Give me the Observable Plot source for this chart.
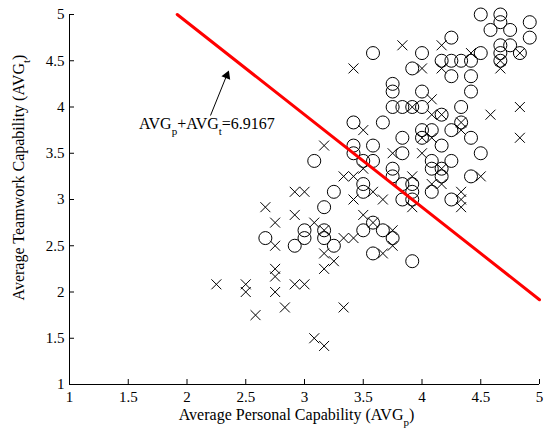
<!DOCTYPE html>
<html><head><meta charset="utf-8">
<script src="https://cdn.jsdelivr.net/npm/d3@7"></script>
<script src="https://cdn.jsdelivr.net/npm/@observablehq/plot@0.6"></script>
<style>body{margin:0;background:#fff}</style>
</head><body><div id="chart"></div>
<script>
// Circles (o)
const circleX = [4.5,4.667,4.667,4.917,4.583,4.75,4.917,4.667,4.75,4.833,4.667,4.667,4.25,4.0,3.583,3.917,4.167,4.25,4.333,4.417,4.5,4.25,4.417,4.417,3.75,3.75,4.0,3.75,3.833,3.917,4.0,4.333,
  4.167,4.333,3.667,3.417,4.0,4.083,4.25,3.833,4.0,4.417,4.167,4.5,3.833,4.083,4.25,4.167,4.083,3.75,3.75,3.833,3.917,4.167,4.417,4.083,3.917,3.833,3.917,4.25,
  3.417,3.417,3.583,3.583,3.5,3.083,3.5,3.25,3.5,3.167,3.167,3.167,3.25,3.5,3.583,3.667,3.75,3.583,3.917,2.667,2.917,3.0,3.0];
const circleY = [5,5,4.917,4.917,4.833,4.833,4.75,4.667,4.667,4.583,4.583,4.5,4.75,4.583,4.583,4.417,4.5,4.5,4.5,4.5,4.583,4.333,4.333,4.167,4.25,4.167,4.167,4.0,4.0,4.0,4.0,4.0,
  3.917,3.833,3.833,3.833,3.75,3.75,3.75,3.667,3.667,3.667,3.583,3.5,3.5,3.417,3.417,3.333,3.333,3.333,3.25,3.167,3.167,3.25,3.25,3.083,3.083,3.0,3.0,3.0,
  3.583,3.5,3.583,3.417,3.417,3.417,3.167,3.083,3.083,2.917,2.667,2.583,2.5,2.667,2.75,2.667,2.583,2.417,2.333,2.583,2.5,2.583,2.667];
// Crosses (x)
const crossX = [3.833,4.167,4.417,4.0,4.167,4.667,4.667,4.833,4.833,4.083,3.417,3.917,4.583,4.833,3.5,4.083,4.167,4.333,4.333,4.0,4.083,3.75,4.0,4.167,3.917,4.167,4.5,4.083,3.667,4.333,4.333,3.917,4.333,
  3.167,3.5,3.333,3.417,3.417,3.583,2.917,3.0,2.667,2.917,2.75,3.083,2.75,2.75,2.75,2.25,2.5,2.5,2.75,2.917,3.0,2.833,2.583,3.083,3.167,3.333,3.167,3.25,3.167,3.167,3.333,3.417,3.5,3.583,3.667,3.75,3.75];
const crossY = [4.667,4.667,4.583,4.417,4.417,4.417,4.5,4.583,4.0,4.083,4.417,4.0,3.917,3.667,3.75,3.917,3.917,3.833,3.75,3.667,3.667,3.5,3.5,3.333,3.25,3.167,3.25,3.167,3.0,3.083,3.0,2.917,2.917,
  3.583,3.333,3.25,3.25,3.0,3.083,3.083,3.083,2.917,2.833,2.75,2.75,2.5,2.25,2.167,2.083,2.083,2.0,2.0,2.083,2.083,1.833,1.75,1.5,1.417,1.833,2.25,2.333,2.417,2.667,2.583,2.583,2.833,2.75,2.417,2.667,2.5];
// Ticks
const xTicks = [1,1.5,2,2.5,3,3.5,4,4.5,5];
const yTicks = [1,1.5,2,2.5,3,3.5,4,4.5,5];
// Decision line AVG_p + AVG_t = 6.9167
const sumConst = 6.9167;
const lineX = [sumConst - 5, 5];
const lineY = [5, sumConst - 5];
// Annotation
const annotText = ["AVG_p+AVG_t=6.9167"];
const annotX = [2.17];
const annotY = [3.82];
const arrowX1 = [2.2], arrowY1 = [3.908], arrowX2 = [2.35], arrowY2 = [4.38];
const headX = [2.339], headY = [4.341];
const xLabel = ["Average Personal Capability (AVG_p)"];
const yLabel = ["Average Teamwork Capability (AVG_t)"];

const FONT = "Liberation Serif, Times New Roman, serif";
const svg = Plot.plot({
  width: 544, height: 432,
  marginLeft: 69, marginRight: 5, marginTop: 14, marginBottom: 48,
  style: {fontFamily: FONT, fontSize: "15px", background: "white", color: "black"},
  x: {domain: [1, 5], label: null},
  y: {domain: [1, 5], label: null},
  marks: [
    Plot.ruleY([1], {stroke: "black", strokeWidth: 1}),
    Plot.ruleX([1], {stroke: "black", strokeWidth: 1}),
    Plot.ruleX(xTicks, {y1: 1, y2: 1 + 5/92.5, stroke: "black"}),
    Plot.ruleY(yTicks, {x1: 1, x2: 1 + 5/117.5, stroke: "black"}),
    Plot.axisX({ticks: xTicks, tickSize: 0, tickPadding: 7, tickFormat: d => String(d), fontSize: 15}),
    Plot.axisY({ticks: yTicks, tickSize: 0, tickPadding: 5, tickFormat: d => String(d), fontSize: 15}),
    Plot.dot(circleX, {x: circleX, y: circleY, r: 6.5, stroke: "black", strokeWidth: 1, fill: "none"}),
    Plot.dot(crossX, {x: crossX, y: crossY, symbol: "times", r: 4.6, stroke: "black", strokeWidth: 1}),
    Plot.line(lineX, {x: lineX, y: lineY, stroke: "#ff0000", strokeWidth: 3}),
    Plot.link(arrowX1, {x1: arrowX1, y1: arrowY1, x2: arrowX2, y2: arrowY2, stroke: "black", strokeWidth: 1}),
    Plot.dot(headX, {x: headX, y: headY, symbol: "triangle", r: 3.5, fill: "black", stroke: "none", rotate: 22}),
    Plot.text(annotText, {x: annotX, y: annotY, text: d => d, fontSize: 16, fill: "black"}),
    Plot.text(xLabel, {frameAnchor: "bottom", textAnchor: "middle", lineAnchor: "middle", dx: -8, dy: 30, text: d => d, fontSize: 16, fill: "black"}),
    Plot.text(yLabel, {frameAnchor: "left", textAnchor: "middle", lineAnchor: "middle", dx: -51, dy: -22, rotate: -90, text: d => d, fontSize: 16, fill: "black"})
  ]
});
d3.select(svg).selectAll("text").each(function() {
  const t = this.textContent;
  if (!t.includes("_")) return;
  const sel = d3.select(this);
  sel.text(null);
  const parts = t.split(/_(\w)/);
  parts.forEach((s, i) => {
    if (!s) return;
    const sp = sel.append("tspan").text(s);
    if (i % 2 === 1) sp.attr("dy", 6).attr("font-size", 11);
    else if (i > 0) sp.attr("dy", -6);
  });
});
document.getElementById("chart").appendChild(svg);
</script>
</body></html>
